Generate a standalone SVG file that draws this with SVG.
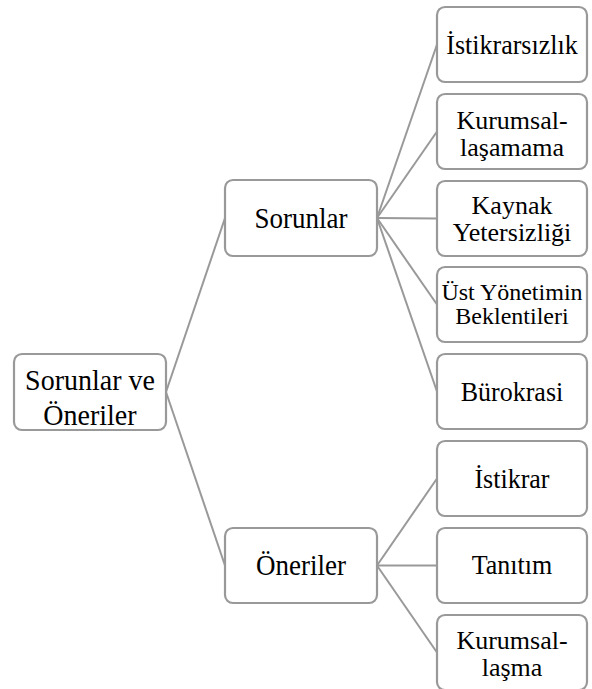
<svg xmlns="http://www.w3.org/2000/svg" width="592" height="689" viewBox="0 0 592 689">
  <style>
    .box { fill: #ffffff; stroke: #999999; stroke-width: 2.2; }
    .link { stroke: #999999; stroke-width: 2; fill: none; }
    .t { font-family: 'Liberation Serif', 'DejaVu Serif', serif; fill: #000000; text-anchor: middle; }
    .tall { transform-box: fill-box; transform-origin: center; transform: scaleY(1.07); }
    .root { font-size: 28px; }
    .big { font-size: 27px; }
    .leaf { font-size: 26px; }
    .small { font-size: 24px; }
  </style>
  <rect width="592" height="689" fill="#ffffff"/>

  <g id="connectors">
    <line class="link" x1="166" y1="392" x2="225" y2="218"/>
    <line class="link" x1="166" y1="392" x2="225" y2="565.5"/>
    <line class="link" x1="377" y1="218" x2="437" y2="44.5"/>
    <line class="link" x1="377" y1="218" x2="437" y2="131.5"/>
    <line class="link" x1="377" y1="218" x2="437" y2="218.5"/>
    <line class="link" x1="377" y1="218" x2="437" y2="304.5"/>
    <line class="link" x1="377" y1="218" x2="437" y2="391.5"/>
    <line class="link" x1="377" y1="565.5" x2="437" y2="478.5"/>
    <line class="link" x1="377" y1="565.5" x2="437" y2="565.5"/>
    <line class="link" x1="377" y1="565.5" x2="437" y2="652.5"/>
  </g>

  <g id="root">
    <rect class="box" x="14" y="354" width="152" height="76" rx="8"/>
    <text class="t tall root"><tspan x="90" y="390">Sorunlar ve</tspan><tspan x="90" y="423">Öneriler</tspan></text>
  </g>

  <g id="sorunlar">
    <rect class="box" x="225" y="180" width="152" height="76" rx="8"/>
    <text class="t tall big" x="301" y="227.5">Sorunlar</text>
  </g>
  <g id="oneriler">
    <rect class="box" x="225" y="528" width="152" height="75" rx="8"/>
    <text class="t tall big" x="301" y="574">Öneriler</text>
  </g>

  <g id="istikrarsizlik">
    <rect class="box" x="437" y="7" width="150" height="75" rx="8"/>
    <text class="t tall leaf" x="512" y="53.5">İstikrarsızlık</text>
  </g>
  <g id="kurumsallasamama">
    <rect class="box" x="437" y="94" width="150" height="75" rx="8"/>
    <text class="t leaf"><tspan x="512" y="128.5">Kurumsal-</tspan><tspan x="512" y="155.5">laşamama</tspan></text>
  </g>
  <g id="kaynak">
    <rect class="box" x="437" y="181" width="150" height="75" rx="8"/>
    <text class="t leaf"><tspan x="512" y="214">Kaynak</tspan><tspan x="512" y="241">Yetersizliği</tspan></text>
  </g>
  <g id="ustyonetim">
    <rect class="box" x="437" y="267" width="150" height="75" rx="8"/>
    <text class="t small"><tspan x="512" y="299.5">Üst Yönetimin</tspan><tspan x="512" y="324">Beklentileri</tspan></text>
  </g>
  <g id="burokrasi">
    <rect class="box" x="437" y="354" width="150" height="75" rx="8"/>
    <text class="t tall leaf" x="512" y="400">Bürokrasi</text>
  </g>
  <g id="istikrar">
    <rect class="box" x="437" y="441" width="150" height="75" rx="8"/>
    <text class="t tall leaf" x="512" y="487">İstikrar</text>
  </g>
  <g id="tanitim">
    <rect class="box" x="437" y="528" width="150" height="75" rx="8"/>
    <text class="t tall leaf" x="512" y="573.5">Tanıtım</text>
  </g>
  <g id="kurumsallasma">
    <rect class="box" x="437" y="615" width="150" height="75" rx="8"/>
    <text class="t leaf"><tspan x="512" y="648.5">Kurumsal-</tspan><tspan x="512" y="675.5">laşma</tspan></text>
  </g>
</svg>
